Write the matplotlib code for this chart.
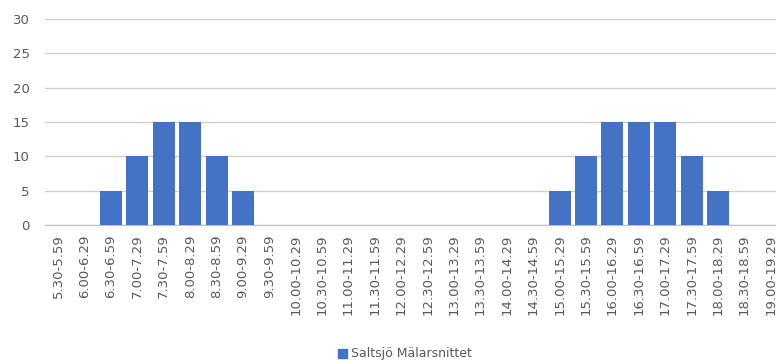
import matplotlib
matplotlib.use("Agg")
import matplotlib.pyplot as plt
from matplotlib.patches import Patch

categories = ["5.30-5.59", "6.00-6.29", "6.30-6.59", "7.00-7.29", "7.30-7.59",
              "8.00-8.29", "8.30-8.59", "9.00-9.29", "9.30-9.59", "10.00-10.29",
              "10.30-10.59", "11.00-11.29", "11.30-11.59", "12.00-12.29",
              "12.30-12.59", "13.00-13.29", "13.30-13.59", "14.00-14.29",
              "14.30-14.59", "15.00-15.29", "15.30-15.59", "16.00-16.29",
              "16.30-16.59", "17.00-17.29", "17.30-17.59", "18.00-18.29",
              "18.30-18.59", "19.00-19.29"]
values = [0, 0, 5, 10, 15, 15, 10, 5, 0, 0, 0, 0, 0, 0, 0, 0, 0, 0, 0,
          5, 10, 15, 15, 15, 10, 5, 0, 0]
yticks = [0, 5, 10, 15, 20, 25, 30]
series_name = "Saltsjö Mälarsnittet"

plt.rcParams['font.family'] = ['DejaVu Sans']
fig = plt.figure(figsize=(7.76, 3.6), dpi=100)
ax = fig.add_axes([45/776, 135/360, (784-45)/776, 206/360])
x = list(range(len(categories)))
ax.bar(x, values, width=0.83, color="#4472C4", zorder=3)
ax.set_xlim(-0.5, len(categories) - 0.5)
ax.set_ylim(0, 30)
ax.set_yticks(yticks)
ax.yaxis.grid(True, color="#d0d0d0", linewidth=1)
ax.set_axisbelow(True)
for s in ["top", "right", "left"]:
    ax.spines[s].set_visible(False)
ax.spines["bottom"].set_color("#bfbfbf")
ax.tick_params(axis="y", length=0, labelsize=9.5, labelcolor="#595959", pad=11)
ax.tick_params(axis="x", length=0, labelsize=9.5, labelcolor="#595959", pad=7)
ax.set_xticks(x)
ax.set_xticklabels(categories, rotation=90)
fig.legend(handles=[Patch(color="#4472C4", label=series_name)],
           loc="center", bbox_to_anchor=(405/776, 1 - 354/360), frameon=False,
           fontsize=9, handlelength=0.7, handleheight=0.7, handletextpad=0.3,
           labelcolor="#595959")
fig.savefig("out.png", dpi=100)
